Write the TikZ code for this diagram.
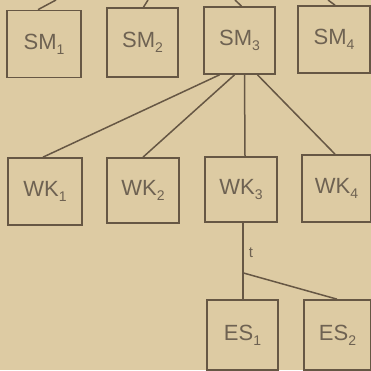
\documentclass[tikz,border=0pt]{standalone}
\usepackage{fontspec}
\setmainfont{Liberation Sans}
\usetikzlibrary{calc}
\definecolor{papier}{HTML}{DDCBA3}
\definecolor{tinte}{HTML}{665744}
\definecolor{schrift}{HTML}{6E6252}
\newcommand{\tief}[1]{\raisebox{-0.45ex}{\fontsize{14}{14}\selectfont #1}}

\begin{document}
\begin{tikzpicture}[x=1pt,y=-1pt,
        kasten/.style={draw=tinte, line width=1.7pt, minimum width=72pt, minimum height=67pt,
            inner sep=0pt, text=schrift, font=\fontsize{22}{22}\selectfont},
        linie/.style={draw=tinte, line width=1.5pt}]
            \path[use as bounding box] (0,0) rectangle (371,370);
            \fill[papier] (0,0) rectangle (371,370);

            % obere Reihe
            \node[kasten, minimum width=74pt] (sm1) at (44,44) {SM\tief{1}};
            \node[kasten, minimum width=71pt, minimum height=69pt] (sm2) at (142.5,42.5) {SM\tief{2}};
            \node[kasten, minimum width=71pt] (sm3) at (239.5,40.5) {SM\tief{3}};
            \node[kasten] (sm4) at (334,39.5) {SM\tief{4}};

            % mittlere Reihe
            \node[kasten, minimum width=74pt] (wk1) at (45,191.5) {WK\tief{1}};
            \node[kasten, minimum height=65pt] (wk2) at (143,190.5) {WK\tief{2}};
            \node[kasten, minimum height=65pt] (wk3) at (241,189.5) {WK\tief{3}};
            \node[kasten, minimum width=69pt] (wk4) at (336.5,188.5) {WK\tief{4}};

            % untere Reihe
            \node[kasten, minimum width=71pt, minimum height=70pt] (es1) at (242.5,335) {ES\tief{1}};
            \node[kasten, minimum width=67pt, minimum height=70pt] (es2) at (337.5,335) {ES\tief{2}};

            % Striche nach oben
            \coordinate (o1) at (56,0);
            \coordinate (o2) at (148,0);
            \coordinate (o3) at (235,0);
            \coordinate (o4) at (328,0);
            \draw[linie] ([xshift=-6pt]sm1.north) -- (o1);
            \draw[linie] ([xshift=1pt]sm2.north) -- (o2);
            \draw[linie] ([xshift=2pt]sm3.north) -- (o3);
            \draw[linie] ([xshift=1pt]sm4.north) -- (o4);

            % SM3 -> WK
            \draw[linie] ([xshift=-20pt]sm3.south) -- ([xshift=-2pt]wk1.north);
            \draw[linie] ([xshift=-5pt]sm3.south) -- (wk2.north);
            \draw[linie] ([xshift=5pt]sm3.south) -- ([xshift=4pt]wk3.north);
            \draw[linie] ([xshift=18pt]sm3.south) -- ([xshift=-1.5pt]wk4.north);

            % WK3 -> ES
            \coordinate (gabel) at ($(wk3.south)+(2,50)$);
            \draw[linie] ([xshift=2pt]wk3.south) -- ([xshift=0.5pt]es1.north);
            \draw[linie] (gabel) -- ([xshift=-0.5pt]es2.north);
            \node[text=schrift, font=\fontsize{15}{15}\selectfont] (t) at (251,253) {t};
        \end{tikzpicture}
\end{document}
